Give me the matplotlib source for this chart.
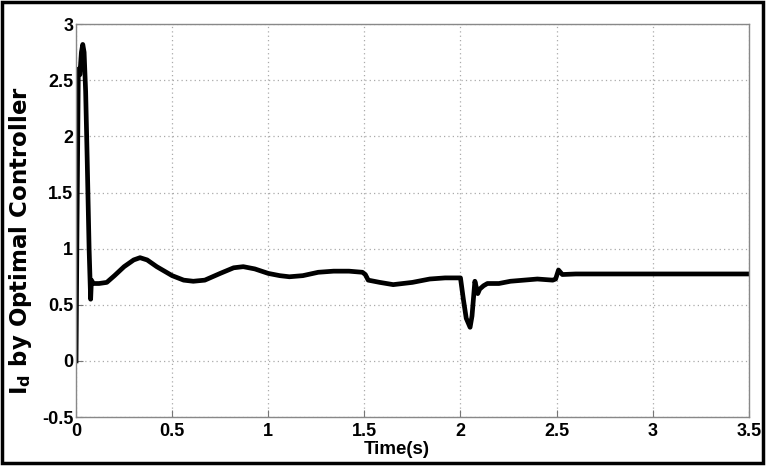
import numpy as np
import matplotlib
matplotlib.use('Agg')
import matplotlib.pyplot as plt
from matplotlib.patches import Rectangle

# Id response (time in s, current)
time_s = [0.0, 0.005, 0.012, 0.02, 0.028, 0.035, 0.042, 0.05, 0.058, 0.068,
          0.076, 0.08, 0.09, 0.12, 0.16, 0.2, 0.25, 0.3, 0.333, 0.37,
          0.42, 0.5, 0.56, 0.61, 0.67, 0.75, 0.82, 0.87, 0.93, 1.0,
          1.06, 1.11, 1.18, 1.26, 1.34, 1.42, 1.49, 1.505, 1.52, 1.58,
          1.65, 1.75, 1.84, 1.92, 2.0, 2.015, 2.03, 2.05, 2.06, 2.075,
          2.09, 2.1, 2.12, 2.14, 2.2, 2.26, 2.33, 2.4, 2.48, 2.495,
          2.51, 2.53, 2.6, 2.8, 3.0, 3.2, 3.5]
id_opt = [0.0, 1.2, 2.6, 2.55, 2.75, 2.82, 2.75, 2.4, 1.8, 1.0,
          0.55, 0.72, 0.69, 0.69, 0.70, 0.76, 0.84, 0.90, 0.92, 0.90,
          0.84, 0.76, 0.72, 0.71, 0.72, 0.78, 0.83, 0.84, 0.82, 0.78,
          0.76, 0.75, 0.76, 0.79, 0.80, 0.80, 0.79, 0.77, 0.72, 0.70,
          0.68, 0.70, 0.73, 0.74, 0.74, 0.55, 0.38, 0.30, 0.40, 0.71,
          0.60, 0.64, 0.67, 0.69, 0.69, 0.71, 0.72, 0.73, 0.72, 0.73,
          0.81, 0.77, 0.775, 0.775, 0.775, 0.775, 0.775]

xticks = [0, 0.5, 1, 1.5, 2, 2.5, 3, 3.5]
xtick_labels = ['0', '0.5', '1', '1.5', '2', '2.5', '3', '3.5']
yticks = [-0.5, 0, 0.5, 1, 1.5, 2, 2.5, 3]
ytick_labels = ['-0.5', '0', '0.5', '1', '1.5', '2', '2.5', '3']

plt.rcParams['font.family'] = ['Liberation Sans', 'DejaVu Sans']
plt.rcParams['font.weight'] = 'bold'
plt.rcParams['mathtext.fontset'] = 'custom'
plt.rcParams['mathtext.bf'] = 'DejaVu Sans:bold'
plt.rcParams['mathtext.rm'] = 'DejaVu Sans:bold'

fig = plt.figure(figsize=(7.68, 4.66), dpi=100)
ax = fig.add_axes([0.099, 0.105, 0.876, 0.843])

ax.plot(time_s, id_opt, color='black', linewidth=3.4, solid_joinstyle='round')

ax.set_xlim(0, 3.5)
ax.set_ylim(-0.5, 3)
ax.set_xticks(xticks)
ax.set_xticklabels(xtick_labels)
ax.set_yticks(yticks)
ax.set_yticklabels(ytick_labels)
ax.tick_params(direction='in', length=5, width=0.8, color='#777777',
               labelsize=13, top=False, right=False)
ax.tick_params(axis='x', pad=4)
ax.tick_params(axis='y', pad=2)
for lab in ax.get_xticklabels() + ax.get_yticklabels():
    lab.set_fontweight('bold')

ax.grid(True, linestyle=(0, (1, 2.5)), color='#aaaaaa', linewidth=0.9)
for sp in ax.spines.values():
    sp.set_color('#888888')
    sp.set_linewidth(1.0)

ax.set_xlabel('Time(s)', fontsize=13.5, fontweight='bold', labelpad=0)
ax.xaxis.set_label_coords(0.477, -0.062)
ax.set_ylabel(r'$\mathbf{I_d}$ by Optimal Controller', fontsize=16.5,
              fontweight='bold', family='DejaVu Sans')
ax.yaxis.set_label_coords(-0.062, 0.45)

# black frame around the whole picture
fig.patches.append(Rectangle((0.002, 0.006), 0.992, 0.99, transform=fig.transFigure,
                             fill=False, edgecolor='black', linewidth=2.5))

fig.savefig('out.png', dpi=100)
